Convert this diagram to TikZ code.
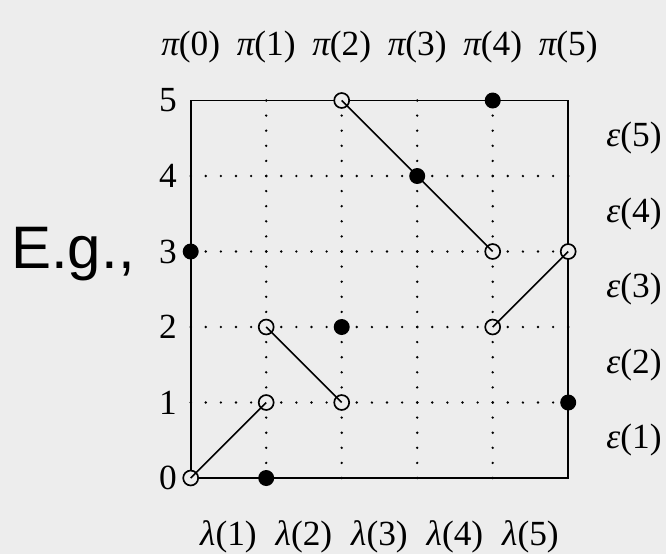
\documentclass[tikz,border=0pt]{standalone}
\usepackage{fontspec}
\setmainfont{Liberation Serif}
\newfontfamily\egfont{Liberation Sans}
\definecolor{bg}{HTML}{EDEDED}
\begin{document}
\begin{tikzpicture}[x=0.75pt,y=-0.75pt,
  frameline/.style={line width=1.45pt},
  gridline/.style={line width=2pt, line cap=round, dash pattern=on 0pt off 11.325pt},
  seg/.style={line width=1.25pt},
  opendot/.style={circle, draw, line width=1.25pt, fill=bg, minimum size=11.2pt, inner sep=0pt},
  fulldot/.style={circle, fill=black, minimum size=12pt, inner sep=0pt},
  lab/.style={font=\fontsize{26.5}{31}\selectfont, inner sep=0pt}]
\fill[bg] (0,0) rectangle (666,554);
\useasboundingbox (0,0) rectangle (666,554);
% grid coordinates
\foreach \i in {0,...,5}{
  \foreach \j in {0,...,5}{
    \coordinate (g\i\j) at ({190.7+75.5*\i},{478-75.5*\j});
  }
}
% dotted grid
\foreach \k in {1,...,4}{
  \draw[gridline] (g0\k) -- (g5\k);
  \draw[gridline] (g\k0) -- (g\k5);
}
% frame
\draw[frameline] (g00) rectangle (g55);
% open circles
\foreach \p in {00,11,12,21,25,43,42,53}{
  \node[opendot] (o\p) at (g\p) {};
}
% segments
\draw[seg] (o00.center) -- (o11.center);
\draw[seg] (o12.center) -- (o21.center);
\draw[seg] (o25.center) -- (g34);
\draw[seg] (g34) -- (o43.center);
\draw[seg] (o42.center) -- (o53.center);
% filled dots
\foreach \p in {10,22,03,34,45,51}{
  \node[fulldot] (f\p) at (g\p) {};
}
% left numbers
\foreach \j in {0,...,5}{
  \node[lab, anchor=east] (y\j) at (177,{478-75.5*\j}) {\j};
}
% top pi labels
\foreach \i in {0,...,5}{
  \node[lab] (pi\i) at ({190.7+75.5*\i},47) {{\itshape π}(\i)};
}
% bottom lambda labels
\foreach \i in {1,...,5}{
  \node[lab] (la\i) at ({190.7+75.5*(\i-0.5)},537) {{\itshape λ}(\i)};
}
% right epsilon labels
\foreach \j in {1,...,5}{
  \node[lab] (ep\j) at (634,{478-75.5*(\j-0.5)}) {{\itshape ε}(\j)};
}
% E.g.
\node[font=\egfont\fontsize{45}{54}\selectfont, inner sep=0pt, anchor=base west] (eg) at (11,268) {E.g.,};
\end{tikzpicture}
\end{document}
